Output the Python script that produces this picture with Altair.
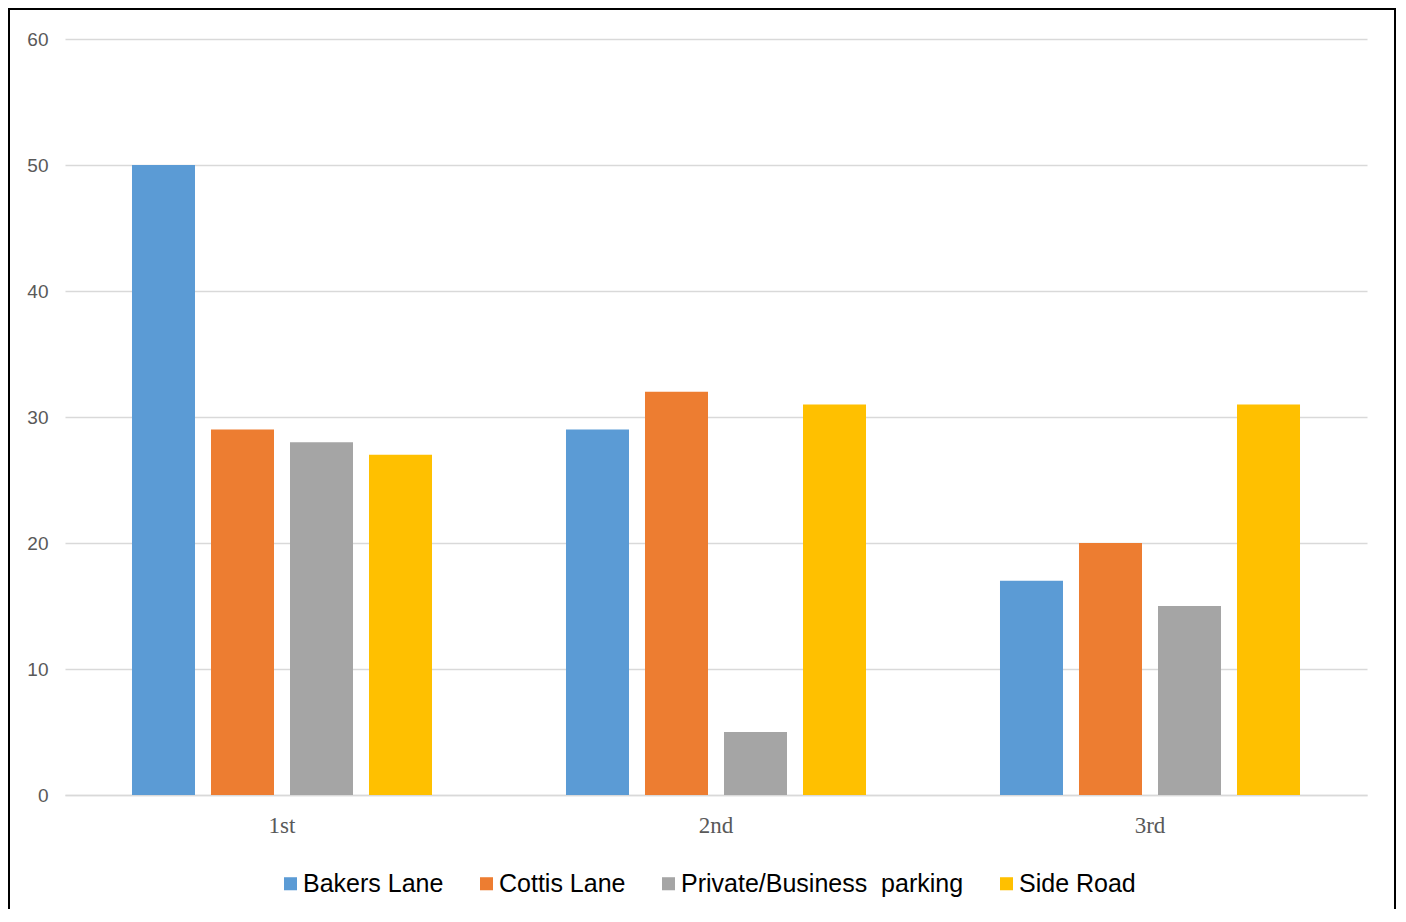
import altair as alt
import pandas as pd

groups = ["1st", "2nd", "3rd"]
series = ["Bakers Lane", "Cottis Lane", "Private/Business\u00a0 parking", "Side Road"]
colors = ["#5B9BD5", "#ED7D31", "#A5A5A5", "#FFC000"]
values = {
    "Bakers Lane": [50, 29, 17],
    "Cottis Lane": [29, 32, 20],
    "Private/Business\u00a0 parking": [28, 5, 15],
    "Side Road": [27, 31, 31],
}

rows = []
for s in series:
    for g, v in zip(groups, values[s]):
        rows.append({"group": g, "series": s, "value": v})
df = pd.DataFrame(rows)

W, H = 1302, 756

bars = alt.Chart(df).mark_bar().encode(
    x=alt.X("group:N", sort=groups, title=None,
            scale=alt.Scale(paddingInner=0, paddingOuter=0),
            axis=alt.Axis(labelAngle=0, labelFont="Liberation Serif", labelFontSize=23,
                          labelColor="#595959", labelPadding=19, ticks=False,
                          domainColor="#d9d9d9", domainWidth=1.5, grid=False)),
    xOffset=alt.XOffset("series:N", sort=series,
                        scale=alt.Scale(paddingInner=0.2025, paddingOuter=0.848)),
    y=alt.Y("value:Q", title=None,
            scale=alt.Scale(domain=[0, 60], nice=False),
            axis=alt.Axis(values=[0, 10, 20, 30, 40, 50, 60], labelFont="Liberation Sans",
                          labelFontSize=19, labelColor="#595959", labelPadding=17,
                          ticks=False, domain=False, gridColor="#d9d9d9", gridWidth=1.5)),
    color=alt.Color("series:N", sort=series,
                    scale=alt.Scale(domain=series, range=colors),
                    legend=alt.Legend(title=None, orient="none", direction="horizontal",
                                      legendX=213, legendY=832,
                                      symbolType="square", symbolSize=170,
                                      symbolStrokeWidth=0, labelFont="Liberation Sans",
                                      labelFontSize=25, labelColor="#000000",
                                      labelOffset=0, columnPadding=30, labelLimit=400)),
)

one = pd.DataFrame({"k": [0]})
frame_left = alt.Chart(one).mark_rule(color="#000000", strokeWidth=2).encode(
    x=alt.value(-56), y=alt.value(-30), y2=alt.value(900))
frame_top = alt.Chart(one).mark_rule(color="#000000", strokeWidth=2).encode(
    x=alt.value(-57), x2=alt.value(1331), y=alt.value(-30))
frame_right = alt.Chart(one).mark_rule(color="#000000", strokeWidth=2).encode(
    x=alt.value(1330), y=alt.value(-30), y2=alt.value(900))

chart = alt.layer(bars, frame_left, frame_top, frame_right).properties(
    width=W, height=H,
    autosize=alt.AutoSizeParams(type="none"),
    padding={"left": 57, "top": 31, "right": 30, "bottom": 114},
).configure_view(stroke=None)

chart.save("out.html", embed_options={"renderer": "svg", "actions": False})
